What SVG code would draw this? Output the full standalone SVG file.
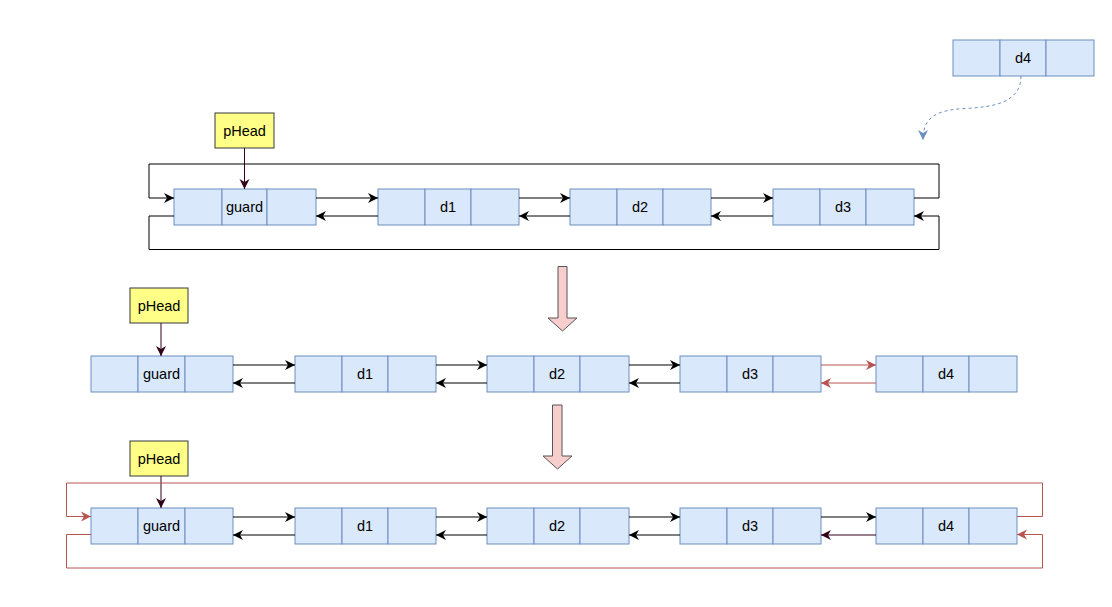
<svg xmlns="http://www.w3.org/2000/svg" width="1112" height="607" viewBox="0 0 1112 607">
<defs>
<style>
.cell{fill:#dae8fc;stroke:#6c8ebf;stroke-width:1}
.lbl{font-family:"Liberation Sans",Arial,sans-serif;font-size:14.5px;fill:#000;text-anchor:middle;dominant-baseline:central}
.ph{fill:#ffff88;stroke:#36393d;stroke-width:1}
.blk{fill:none;stroke:#000;stroke-width:1;marker-end:url(#ab)}
.red{fill:none;stroke:#b85450;stroke-width:1;marker-end:url(#ar)}
.mar{fill:none;stroke:#33001a;stroke-width:1;marker-end:url(#am)}
.dash{fill:none;stroke:#6c8ebf;stroke-width:1;stroke-dasharray:3,3;marker-end:url(#ad)}
.big{fill:#f8cecc;stroke:#555;stroke-width:1}
</style>
<marker id="ab" markerUnits="userSpaceOnUse" markerWidth="12" markerHeight="12" refX="10" refY="5" orient="auto" viewBox="0 0 12 10"><path d="M0,0 L10,5 L0,10 L3,5 z" fill="#000"/></marker>
<marker id="ar" markerUnits="userSpaceOnUse" markerWidth="12" markerHeight="12" refX="10" refY="5" orient="auto" viewBox="0 0 12 10"><path d="M0,0 L10,5 L0,10 L3,5 z" fill="#b85450"/></marker>
<marker id="am" markerUnits="userSpaceOnUse" markerWidth="12" markerHeight="12" refX="10" refY="5" orient="auto" viewBox="0 0 12 10"><path d="M0,0 L10,5 L0,10 L3,5 z" fill="#33001a"/></marker>
<marker id="ad" markerUnits="userSpaceOnUse" markerWidth="12" markerHeight="12" refX="10" refY="5" orient="auto" viewBox="0 0 12 10"><path d="M0,0 L10,5 L0,10 L3,5 z" fill="#6c8ebf"/></marker>
</defs>
<rect width="1112" height="607" fill="#fff"/>

<!-- top row -->
<g id="t-phead"><rect class="ph" x="215" y="113" width="59" height="35"/><text class="lbl" x="244.5" y="130.5">pHead</text></g>
<g id="t-guard"><rect class="cell" x="174" y="189" width="48" height="36"/><rect class="cell" x="222" y="189" width="45" height="36"/><rect class="cell" x="267" y="189" width="49" height="36"/><text class="lbl" x="244.5" y="207">guard</text></g>
<g id="t-d1"><rect class="cell" x="378" y="189" width="47" height="36"/><rect class="cell" x="425" y="189" width="46" height="36"/><rect class="cell" x="471" y="189" width="48" height="36"/><text class="lbl" x="448" y="207">d1</text></g>
<g id="t-d2"><rect class="cell" x="570" y="189" width="47" height="36"/><rect class="cell" x="617" y="189" width="46" height="36"/><rect class="cell" x="663" y="189" width="48" height="36"/><text class="lbl" x="640" y="207">d2</text></g>
<g id="t-d3"><rect class="cell" x="773" y="189" width="47" height="36"/><rect class="cell" x="820" y="189" width="46" height="36"/><rect class="cell" x="866" y="189" width="48" height="36"/><text class="lbl" x="843" y="207">d3</text></g>
<g id="t-d4"><rect class="cell" x="953" y="40" width="47" height="36"/><rect class="cell" x="1000" y="40" width="46" height="36"/><rect class="cell" x="1046" y="40" width="48" height="36"/><text class="lbl" x="1023" y="58">d4</text></g>

<!-- middle row -->
<g id="m-phead"><rect class="ph" x="130" y="288" width="58" height="35"/><text class="lbl" x="159" y="305.5">pHead</text></g>
<g id="m-guard"><rect class="cell" x="91" y="356" width="47" height="36"/><rect class="cell" x="138" y="356" width="47" height="36"/><rect class="cell" x="185" y="356" width="48" height="36"/><text class="lbl" x="161.5" y="374">guard</text></g>
<g id="m-d1"><rect class="cell" x="295" y="356" width="47" height="36"/><rect class="cell" x="342" y="356" width="46" height="36"/><rect class="cell" x="388" y="356" width="48" height="36"/><text class="lbl" x="365" y="374">d1</text></g>
<g id="m-d2"><rect class="cell" x="487" y="356" width="47" height="36"/><rect class="cell" x="534" y="356" width="46" height="36"/><rect class="cell" x="580" y="356" width="49" height="36"/><text class="lbl" x="557" y="374">d2</text></g>
<g id="m-d3"><rect class="cell" x="680" y="356" width="47" height="36"/><rect class="cell" x="727" y="356" width="46" height="36"/><rect class="cell" x="773" y="356" width="48" height="36"/><text class="lbl" x="750" y="374">d3</text></g>
<g id="m-d4"><rect class="cell" x="876" y="356" width="47" height="36"/><rect class="cell" x="923" y="356" width="46" height="36"/><rect class="cell" x="969" y="356" width="48" height="36"/><text class="lbl" x="946" y="374">d4</text></g>

<!-- bottom row -->
<g id="b-phead"><rect class="ph" x="130" y="441" width="58" height="35"/><text class="lbl" x="159" y="458.5">pHead</text></g>
<g id="b-guard"><rect class="cell" x="91" y="508" width="47" height="36"/><rect class="cell" x="138" y="508" width="47" height="36"/><rect class="cell" x="185" y="508" width="48" height="36"/><text class="lbl" x="161.5" y="526">guard</text></g>
<g id="b-d1"><rect class="cell" x="295" y="508" width="47" height="36"/><rect class="cell" x="342" y="508" width="46" height="36"/><rect class="cell" x="388" y="508" width="48" height="36"/><text class="lbl" x="365" y="526">d1</text></g>
<g id="b-d2"><rect class="cell" x="487" y="508" width="47" height="36"/><rect class="cell" x="534" y="508" width="46" height="36"/><rect class="cell" x="580" y="508" width="49" height="36"/><text class="lbl" x="557" y="526">d2</text></g>
<g id="b-d3"><rect class="cell" x="680" y="508" width="47" height="36"/><rect class="cell" x="727" y="508" width="46" height="36"/><rect class="cell" x="773" y="508" width="48" height="36"/><text class="lbl" x="750" y="526">d3</text></g>
<g id="b-d4"><rect class="cell" x="876" y="508" width="47" height="36"/><rect class="cell" x="923" y="508" width="46" height="36"/><rect class="cell" x="969" y="508" width="48" height="36"/><text class="lbl" x="946" y="526">d4</text></g>

<!-- big down arrows -->
<g id="down1"><path class="big" d="M558,266.5 H567 V318 H577 L562.5,331 L548,318 H558 Z"/></g>
<g id="down2"><path class="big" d="M552.5,405 H562 V456 H572 L557.5,469 L543,456 H552.5 Z"/></g>

<g id="connectors">
<!-- top -->
<path class="mar" d="M244.5,148 V189"/>
<path class="blk" d="M316,198 H378"/>
<path class="blk" d="M378,216 H316"/>
<path class="blk" d="M519,198 H570"/>
<path class="blk" d="M570,216 H519"/>
<path class="blk" d="M711,198 H773"/>
<path class="blk" d="M773,216 H711"/>
<path class="blk" d="M914,198 H939 V164 H149 V198 H174"/>
<path class="blk" d="M174,216 H149 V249.5 H939 V216 H914"/>
<path class="dash" d="M1021,76 C1021,102 995,107 965,108.5 C935,110 923,118 923,140"/>
<!-- middle -->
<path class="mar" d="M161,323 V356"/>
<path class="blk" d="M233,365 H295"/>
<path class="blk" d="M295,383 H233"/>
<path class="blk" d="M436,365 H487"/>
<path class="blk" d="M487,383 H436"/>
<path class="blk" d="M629,365 H680"/>
<path class="blk" d="M680,383 H629"/>
<path class="red" d="M821,365 H876"/>
<path class="red" d="M876,383 H821"/>
<!-- bottom -->
<path class="mar" d="M161,476 V508"/>
<path class="blk" d="M233,517 H295"/>
<path class="blk" d="M295,535 H233"/>
<path class="blk" d="M436,517 H487"/>
<path class="blk" d="M487,535 H436"/>
<path class="blk" d="M629,517 H680"/>
<path class="blk" d="M680,535 H629"/>
<path class="blk" d="M821,517 H876"/>
<path class="mar" d="M876,535 H821"/>
<path class="red" d="M1017,516.5 H1042.5 V483 H66.5 V516.5 H91"/>
<path class="red" d="M91,534.5 H66.5 V568 H1042.5 V534.5 H1017"/>
</g>
</svg>
